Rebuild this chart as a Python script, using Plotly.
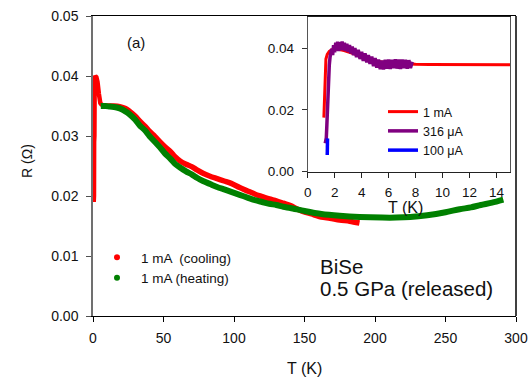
import plotly.graph_objects as go

# ---------------- data ----------------
# main panel, 1 mA cooling: low-T spike part, then the smooth high-T part
spike_T = [0.5, 0.7, 0.8, 1.0, 1.2, 1.6, 2.4, 3.2, 4.2, 5.2, 6.5]
spike_R = [0.0190, 0.0200, 0.0290, 0.0300, 0.0395, 0.0400, 0.0398, 0.0390, 0.0370, 0.0355, 0.0351]

cool_T = [6.5, 10, 15, 19, 23, 26, 30, 33, 37, 40, 44, 47.5, 51, 55, 58, 62, 66, 70, 74, 78, 83,
          88, 93, 98, 104, 110, 115, 120, 125, 130, 135, 140, 147, 155, 162, 168, 175, 182, 189]
cool_R = [0.0351, 0.0350, 0.0350, 0.0349, 0.0346, 0.0341, 0.0333, 0.0325, 0.0316, 0.0308,
          0.0299, 0.0290, 0.0282, 0.0274, 0.0266, 0.0258, 0.0253, 0.0249, 0.0243, 0.0238,
          0.0233, 0.0229, 0.0225, 0.0221, 0.0214, 0.0208, 0.0203, 0.0199, 0.0195, 0.0192,
          0.0188, 0.0184, 0.0176, 0.0170, 0.0165, 0.0163, 0.0160, 0.0158, 0.0155]

# main panel, 1 mA heating
heat_T = [5.5, 9, 12, 16, 19, 23, 26, 30, 33, 37, 40, 44, 47.5, 51, 55, 58, 62, 66, 70, 74, 78,
          83, 88, 93, 98, 104, 110, 115, 120, 125, 130, 135, 140, 150, 162, 175, 189, 205, 215,
          225, 237, 250, 260, 268, 275, 283, 291]
heat_R = [0.0350, 0.0350, 0.0349, 0.0348, 0.0346, 0.0341, 0.0336, 0.0327, 0.0318, 0.0309,
          0.0300, 0.0290, 0.0281, 0.0271, 0.0262, 0.0254, 0.0247, 0.0241, 0.0236, 0.0230,
          0.0225, 0.0220, 0.0215, 0.0211, 0.0207, 0.0202, 0.0197, 0.0193, 0.0190, 0.0187,
          0.0185, 0.0182, 0.0180, 0.0175, 0.0170, 0.0167, 0.0165, 0.0164, 0.0164, 0.0165,
          0.0168, 0.0173, 0.0178, 0.0181, 0.0185, 0.0189, 0.0194]

# inset, 1 mA
in1_T = [1.20, 1.25, 1.30, 1.35, 1.45, 1.6, 1.8, 2.2, 2.7, 3.2, 3.8, 4.5, 5.2, 6, 7, 8, 9, 10,
         11, 12, 13, 14, 15]
in1_R = [0.0175, 0.0230, 0.0300, 0.0365, 0.0380, 0.0390, 0.0395, 0.0397, 0.0392, 0.0385, 0.0375,
         0.0365, 0.0357, 0.0352, 0.0349, 0.0348, 0.0347, 0.0347, 0.0346, 0.0347, 0.0346,
         0.0347, 0.0346]

# inset, 316 uA (noisy trace)
in316_T = [1.30, 1.38, 1.42, 1.46, 1.50, 1.55, 1.60, 1.66, 1.72, 1.78, 1.85, 1.92, 2.00, 2.08,
           2.15, 2.22, 2.30, 2.38, 2.46, 2.55, 2.64, 2.72, 2.80, 2.90, 3.00, 3.10, 3.20, 3.30,
           3.40, 3.50, 3.62, 3.75, 3.88, 4.00, 4.12, 4.25, 4.38, 4.50, 4.62, 4.75, 4.88, 5.00,
           5.12, 5.25, 5.38, 5.50, 5.62, 5.75, 5.88, 6.00, 6.12, 6.25, 6.38, 6.50, 6.62, 6.75,
           6.88, 7.00, 7.12, 7.25, 7.38, 7.50, 7.62, 7.75]
in316_R = [0.0092, 0.0110, 0.0150, 0.0200, 0.0260, 0.0310, 0.0345, 0.0372, 0.0385, 0.0398,
           0.0378, 0.0410, 0.0387, 0.0418, 0.0392, 0.0421, 0.0391, 0.0419, 0.0394, 0.0422,
           0.0393, 0.0418, 0.0391, 0.0414, 0.0388, 0.0410, 0.0383, 0.0405, 0.0377, 0.0400,
           0.0371, 0.0395, 0.0365, 0.0388, 0.0359, 0.0383, 0.0354, 0.0378, 0.0349, 0.0373,
           0.0342, 0.0368, 0.0337, 0.0363, 0.0332, 0.0360, 0.0331, 0.0362, 0.0334, 0.0363,
           0.0333, 0.0362, 0.0335, 0.0364, 0.0334, 0.0363, 0.0333, 0.0363, 0.0335, 0.0362,
           0.0334, 0.0361, 0.0336, 0.0356]

# inset, 100 uA
in100_T = [1.45, 1.46, 1.47]
in100_R = [0.0054, 0.0080, 0.0108]

main_xticks = [0, 50, 100, 150, 200, 250, 300]
main_yticks = [0.00, 0.01, 0.02, 0.03, 0.04, 0.05]
inset_xticks = [0, 2, 4, 6, 8, 10, 12, 14]
inset_yticks = [0.00, 0.02, 0.04]

legend_main = ["1 mA  (cooling)", "1 mA (heating)"]
legend_inset = ["1 mA", "316 \u03bcA", "100 \u03bcA"]

# ---------------- figure ----------------
FONT = "Liberation Sans"
RED = "#ff0000"
GREEN = "#008000"
PURPLE = "#800080"
BLUE = "#0000ff"

fig = go.Figure()

# main curves
fig.add_trace(go.Scatter(x=cool_T, y=cool_R, mode="lines",
                         line=dict(color=RED, width=5.5, shape="spline", smoothing=0.8),
                         showlegend=False, cliponaxis=False, xaxis="x", yaxis="y"))
fig.add_trace(go.Scatter(x=spike_T, y=spike_R, mode="lines", line=dict(color=RED, width=4.5),
                         showlegend=False, cliponaxis=False, xaxis="x", yaxis="y"))
fig.add_trace(go.Scatter(x=heat_T, y=heat_R, mode="lines",
                         line=dict(color=GREEN, width=6, shape="spline", smoothing=0.8),
                         showlegend=False, cliponaxis=False, xaxis="x", yaxis="y"))
# main legend entries (dots)
fig.add_trace(go.Scatter(x=[None], y=[None], mode="markers", name=legend_main[0],
                         marker=dict(color=RED, size=6), legend="legend"))
fig.add_trace(go.Scatter(x=[None], y=[None], mode="markers", name=legend_main[1],
                         marker=dict(color=GREEN, size=6), legend="legend"))

# inset curves
fig.add_trace(go.Scatter(x=in1_T, y=in1_R, mode="lines", name=legend_inset[0],
                         line=dict(color=RED, width=3), xaxis="x2", yaxis="y2", legend="legend2"))
fig.add_trace(go.Scatter(x=in316_T, y=in316_R, mode="lines", name=legend_inset[1],
                         line=dict(color=PURPLE, width=3.5), xaxis="x2", yaxis="y2", legend="legend2"))
fig.add_trace(go.Scatter(x=in100_T, y=in100_R, mode="lines", name=legend_inset[2],
                         line=dict(color=BLUE, width=3.5), xaxis="x2", yaxis="y2", legend="legend2"))

W, H = 530, 377
ML, MR, MT, MB = 93, 14, 16, 61
PW, PH = W - ML - MR, H - MT - MB


def px(xp):
    return (xp - ML) / PW


def py(yp):
    return (MT + PH - yp) / PH


axis_common = dict(showgrid=False, zeroline=False, ticks="outside", ticklen=5, automargin=False)

fig.update_layout(
    template="none",
    width=W, height=H, autosize=False,
    margin=dict(l=ML, r=MR, t=MT, b=MB, pad=0, autoexpand=False),
    paper_bgcolor="white", plot_bgcolor="rgba(0,0,0,0)",
    font=dict(family=FONT, size=14, color="#111"),
    xaxis=dict(domain=[0, 1], range=[0, 300], tickvals=main_xticks, anchor="y",
               showline=True, linecolor="black", linewidth=1, mirror=True,
               tickcolor="black", ticklabelstandoff=4,
               tickfont=dict(family=FONT, size=14, color="#111"), **axis_common),
    yaxis=dict(domain=[0, 1], range=[0, 0.05], tickvals=main_yticks, tickformat=".2f", anchor="x",
               showline=True, linecolor="#707070", linewidth=1.5, mirror=False,
               tickcolor="#505050", ticklabelstandoff=5,
               tickfont=dict(family=FONT, size=14, color="#111"), **axis_common),
    xaxis2=dict(domain=[px(307.7), px(510)], range=[0, 15], tickvals=inset_xticks, anchor="y2",
                showline=True, linecolor="#222", linewidth=1, mirror=True,
                tickcolor="#222", ticklabelstandoff=3,
                tickfont=dict(family=FONT, size=13.5, color="#111"), **axis_common),
    yaxis2=dict(domain=[py(171.7), py(17.3)], range=[0, 0.05], tickvals=inset_yticks,
                tickformat=".2f", anchor="x2",
                showline=True, linecolor="#555", linewidth=1, mirror=True,
                tickcolor="#333", ticklabelstandoff=5,
                tickfont=dict(family=FONT, size=13.5, color="#111"), **axis_common),
    legend=dict(x=0, y=py(242), xanchor="left", yanchor="top", bgcolor="rgba(0,0,0,0)",
                borderwidth=0, itemwidth=38, font=dict(family=FONT, size=13.5, color="#111"),
                tracegroupgap=0),
    legend2=dict(x=px(383), y=py(97), xanchor="left", yanchor="top", bgcolor="rgba(0,0,0,0)",
                 borderwidth=0, font=dict(family=FONT, size=12.5, color="#111"), tracegroupgap=0),
    shapes=[dict(type="line", xref="paper", yref="paper", x0=1, x1=1, y0=0, y1=1,
                 line=dict(color="black", width=1.5), layer="above")],
    annotations=[
        dict(text="(a)", x=px(135.7), y=py(42.7), xref="paper", yref="paper", showarrow=False,
             xanchor="center", yanchor="middle", font=dict(family=FONT, size=15, color="#111")),
        dict(text="BiSe", x=px(318), y=py(266.7), xref="paper", yref="paper", showarrow=False,
             xanchor="left", yanchor="middle", font=dict(family=FONT, size=20.5, color="#111")),
        dict(text="0.5 GPa (released)", x=px(318), y=py(288.5), xref="paper", yref="paper",
             showarrow=False, xanchor="left", yanchor="middle",
             font=dict(family=FONT, size=20.5, color="#111")),
        dict(text="T (K)", x=0.5, y=py(368), xref="paper", yref="paper", showarrow=False,
             xanchor="center", yanchor="middle", font=dict(family=FONT, size=16, color="#111")),
        dict(text="R (\u03a9)", x=px(27), y=py(161), xref="paper", yref="paper", showarrow=False,
             textangle=-90, xanchor="center", yanchor="middle",
             font=dict(family=FONT, size=14, color="#111")),
        dict(text="T (K)", x=px(405), y=py(207.5), xref="paper", yref="paper", showarrow=False,
             xanchor="center", yanchor="middle", font=dict(family=FONT, size=16, color="#111")),
    ],
)

fig.write_html("out.html", config={"displayModeBar": False, "responsive": False},
               post_script="document.body.style.margin='0';")
